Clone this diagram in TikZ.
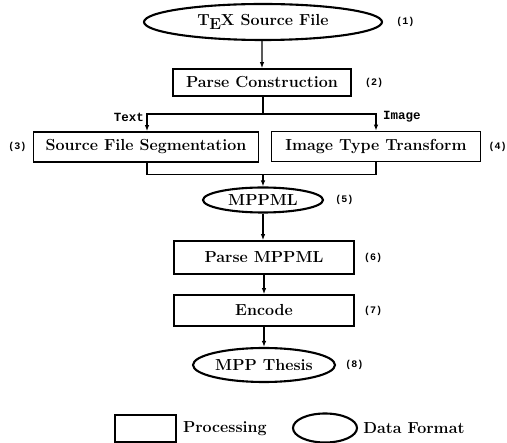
\documentclass[tikz,border=0pt]{standalone}
\usepackage{fontspec}
\newfontfamily\monofont{Liberation Mono}
\usepackage{tikz}
\usetikzlibrary{arrows.meta,positioning,shapes.geometric}

\begin{document}
\begin{tikzpicture}[
  x=1pt,y=-1pt,
  proc/.style={draw,line width=1.7pt,minimum height=30pt,inner sep=0pt,font=\fontsize{16}{18}\selectfont\bfseries},
  data/.style={draw,ellipse,line width=2.1pt,inner sep=0pt,font=\fontsize{16}{18}\selectfont\bfseries},
  num/.style={inner sep=0pt,font=\fontsize{10}{12}\selectfont\monofont\bfseries},
  branch/.style={inner sep=0pt,font=\fontsize{12.5}{14}\selectfont\monofont\bfseries},
  legend/.style={inner sep=0pt,font=\fontsize{16}{18}\selectfont\bfseries},
  line/.style={-{Latex[length=6pt,width=4.5pt]},line width=1.4pt},
  wire/.style={line width=1.4pt}
]
\useasboundingbox (0,0) rectangle (507,443);
% main column
\node[data,minimum width=238pt,minimum height=36pt] (src) at (263,22) {T\kern-0.02em\lower0.45ex\hbox{E}\kern-0.02em X Source File};
\node[proc,minimum width=178pt,minimum height=27pt] (parse) at (262,82.5) {Parse Construction};
\node[proc,minimum width=225pt] (seg) at (146,147) {Source File Segmentation};
\node[proc,minimum width=209pt] (img) at (376,146.5) {Image Type Transform};
\node[data,minimum width=120pt,minimum height=25pt] (mppml) at (263,200) {MPPML};
\node[proc,minimum width=180pt,minimum height=33pt] (pmpp) at (264,257.5) {Parse MPPML};
\node[proc,minimum width=180pt,minimum height=31pt] (enc) at (264,310.5) {Encode};
\node[data,minimum width=142pt,minimum height=34pt] (thesis) at (264,365) {MPP Thesis};

% step numbers
\node[num,right=13pt of src] (n1) {(1)};
\node[num,right=13pt of parse] (n2) {(2)};
\node[num,left=6pt of seg] (n3) {(3)};
\node[num,right=7pt of img] (n4) {(4)};
\node[num,right=11pt of mppml] (n5) {(5)};
\node[num,right=9pt of pmpp] (n6) {(6)};
\node[num,right=9pt of enc] (n7) {(7)};
\node[num,right=9pt of thesis] (n8) {(8)};

% split and merge
\coordinate (split) at (263,114);
\coordinate (tl) at (147,114);
\coordinate (tr) at (376,114);
\coordinate (join) at (263,174.5);
\node[branch,anchor=north east] (ltext) at ([xshift=-3pt,yshift=1pt]tl) {Text};
\node[branch,anchor=north west] (limage) at ([xshift=7pt,yshift=3pt]tr) {Image};

\draw[line] (src) -- (src.south -| parse.north) coordinate (a) -- (a |- parse.north);
\draw[wire] (split |- parse.south) -- (split);
\draw[line] (split) -| (tl) -- (tl |- seg.north);
\draw[line] (split) -| (tr) -- (tr |- img.north);
\draw[wire] (tl |- seg.south) |- (join);
\draw[wire] (tr |- img.south) |- (join);
\draw[line] (join) -- (join |- mppml.north);
\draw[line] (mppml.south) -- (mppml.south |- pmpp.north);
\draw[line] (pmpp) -- (enc);
\draw[line] (enc) -- (thesis);

% legend
\node[proc,minimum width=61pt,minimum height=27pt] (legproc) at (145.5,428.5) {};
\node[legend,right=6pt of legproc] (legproctext) {Processing};
\node[data,minimum width=64pt,minimum height=29pt] (legdata) at (325,428) {};
\node[legend,right=5pt of legdata] (legdatatext) {Data Format};
\end{tikzpicture}
\end{document}
